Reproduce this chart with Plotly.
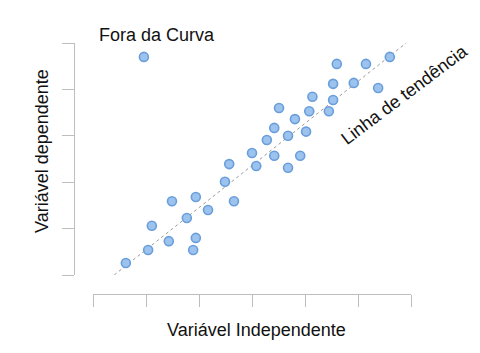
import plotly.graph_objects as go

# Data (in axis units: x ticks 0..6, y ticks 0..5)
x_vals = [0.62, 1.04, 1.11, 1.43, 1.49, 1.77, 1.94, 1.94, 1.89, 2.17,
          2.49, 2.57, 2.66, 3.00, 3.08, 3.68, 3.42, 3.91, 3.28, 3.68,
          4.02, 3.42, 3.81, 4.08, 4.45, 3.51, 4.14, 4.53, 4.53, 4.92,
          5.38, 4.60, 5.15, 5.60]
y_vals = [0.26, 0.54, 1.06, 0.73, 1.59, 1.23, 1.68, 0.80, 0.54, 1.40,
          2.01, 2.39, 1.59, 2.63, 2.35, 2.31, 2.57, 2.57, 2.91, 3.00,
          3.09, 3.17, 3.36, 3.53, 3.53, 3.60, 3.84, 3.77, 4.12, 4.14,
          4.03, 4.55, 4.55, 4.70]
outlier_x = [0.96]
outlier_y = [4.70]
trend_x = [0.40, 5.91]
trend_y = [0.0, 5.0]

W, H = 480, 353
AX = "#bdbdbd"
FONT = "Liberation Sans, Arial, sans-serif"
FS = 18

fig = go.Figure()
fig.add_trace(go.Scatter(x=trend_x, y=trend_y, mode="lines",
                         line=dict(color="#9a9a9a", width=1, dash="dot"),
                         hoverinfo="skip", showlegend=False))
marker = dict(size=9, color="#9cc3ee", line=dict(color="#6a9edb", width=1.6))
fig.add_trace(go.Scatter(x=x_vals, y=y_vals, mode="markers", marker=marker,
                         showlegend=False))
fig.add_trace(go.Scatter(x=outlier_x, y=outlier_y, mode="markers", marker=marker,
                         showlegend=False))

def px(xp):
    return xp / W

def py(yp):
    return 1 - yp / H

fig.update_layout(
    width=W, height=H,
    margin=dict(l=0, r=0, t=0, b=0),
    paper_bgcolor="white", plot_bgcolor="white",
    showlegend=False,
    xaxis=dict(domain=[px(93), px(411)], range=[0, 6], dtick=1, tick0=0,
               showline=True, linecolor=AX, linewidth=1,
               ticks="outside", ticklen=12, tickcolor=AX, tickwidth=1,
               showticklabels=False, showgrid=False, zeroline=False,
               anchor="free", position=py(294)),
    yaxis=dict(domain=[py(275), py(43)], range=[0, 5], dtick=1, tick0=0,
               showline=True, linecolor=AX, linewidth=1,
               ticks="outside", ticklen=12, tickcolor=AX, tickwidth=1,
               showticklabels=False, showgrid=False, zeroline=False,
               anchor="free", position=px(74)),
    font=dict(family=FONT, color="#111111", size=FS),
)

annos = [
    dict(text="Fora da Curva", x=px(157), y=py(35), textangle=0),
    dict(text="Variável Independente", x=px(256), y=py(330), textangle=0),
    dict(text="Variável dependente", x=px(42), y=py(151), textangle=-90),
    dict(text="Linha de tendência", x=px(404), y=py(95), textangle=-37),
]
for a in annos:
    fig.add_annotation(xref="paper", yref="paper", showarrow=False,
                       xanchor="center", yanchor="middle",
                       font=dict(family=FONT, size=FS, color="#111111"), **a)

fig.write_html("out.html")
